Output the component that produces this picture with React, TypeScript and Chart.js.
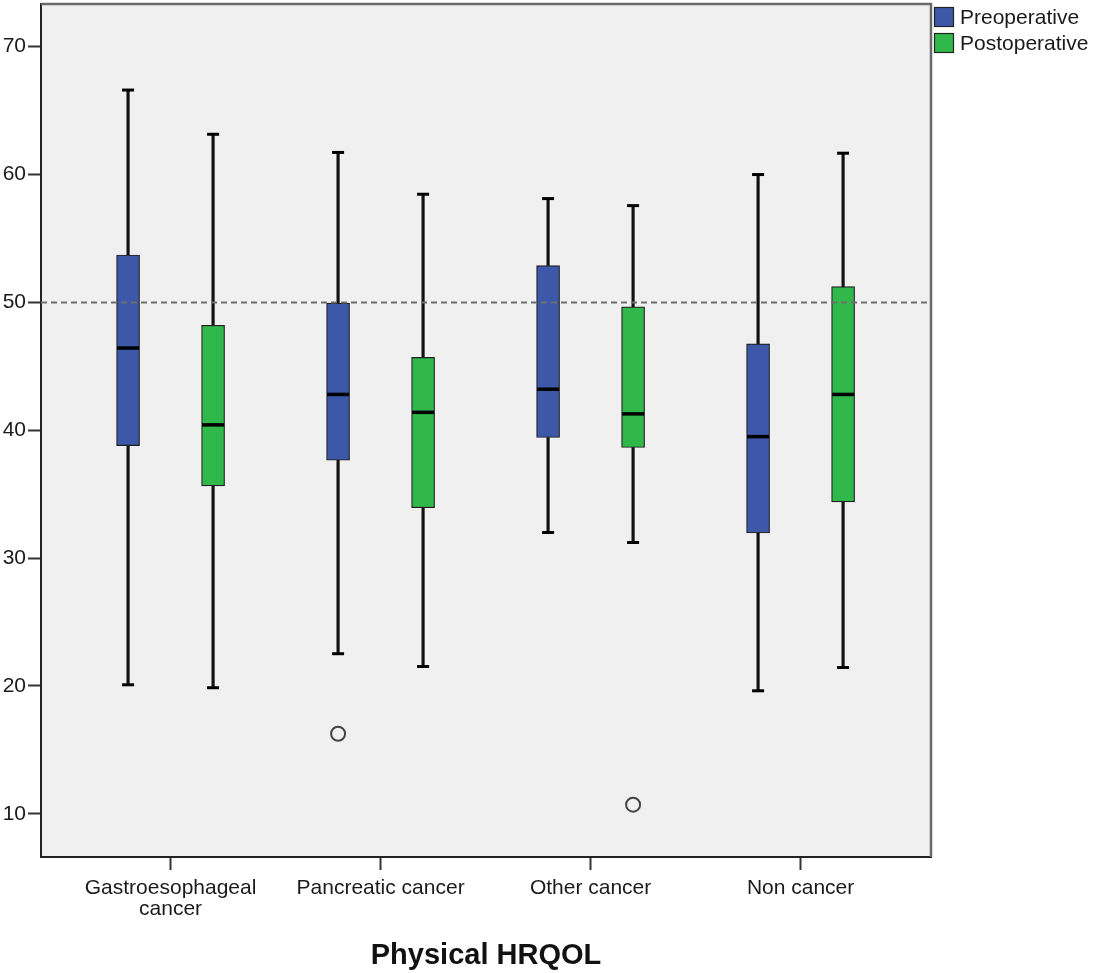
import React, { useEffect, useRef } from 'react';
import { Chart, registerables } from 'chart.js';

Chart.register(...registerables);

// ---------- data ----------
const categories: (string | string[])[] = [['Gastroesophageal', 'cancer'], 'Pancreatic cancer', 'Other cancer', 'Non cancer'];
const seriesNames = ['Preoperative', 'Postoperative'];
const yTicks = [10, 20, 30, 40, 50, 60, 70];
const referenceValue = 50;

const preLow = [20.09, 22.52, 32.0, 19.62];
const preQ1 = [38.8, 37.65, 39.43, 31.96];
const preMedian = [46.43, 42.8, 43.21, 39.5];
const preQ3 = [53.71, 49.95, 52.88, 46.76];
const preHigh = [66.61, 61.73, 58.12, 60.0];

const postLow = [19.86, 21.52, 31.22, 21.44];
const postQ1 = [35.65, 33.94, 38.65, 34.39];
const postMedian = [40.42, 41.4, 41.28, 42.8];
const postQ3 = [48.21, 45.7, 49.65, 51.23];
const postHigh = [63.15, 58.46, 57.57, 61.67];

const preOutlierCategory = [1];
const preOutlierValue = [16.26];
const postOutlierCategory = [2];
const postOutlierValue = [10.71];

// ---------- styling ----------
const FONT = '"Liberation Sans", Arial, sans-serif';
const BLUE = '#3d58a8';
const GREEN = '#31b84b';
const OFFSET = 0.2024;
const X_MIN = -0.617;
const X_MAX = 3.621;
const Y_MIN = 6.62;
const Y_MAX = 73.34;

function boxes(q1: number[], q3: number[], off: number) {
  return q1.map((v, i) => ({ x: i + off, y: [v, q3[i]] }));
}
function whiskers(low: number[], q1: number[], q3: number[], high: number[], off: number) {
  const out: any[] = [];
  low.forEach((v, i) => {
    out.push({ x: i + off, y: [v, q1[i]] });
    out.push({ x: i + off, y: [q3[i], high[i]] });
  });
  return out;
}
function caps(low: number[], high: number[], off: number) {
  const out: any[] = [];
  low.forEach((v, i) => {
    out.push({ x: i + off, y: v });
    out.push({ x: i + off, y: high[i] });
  });
  return out;
}
function points(vals: number[], off: number) {
  return vals.map((v, i) => ({ x: i + off, y: v }));
}

const backgroundPlugin = {
  id: 'plotBackground',
  beforeDraw(chart: any) {
    const { ctx, chartArea: a } = chart;
    ctx.save();
    ctx.fillStyle = '#f0f0f0';
    ctx.fillRect(a.left, a.top, a.right - a.left, a.bottom - a.top);
    ctx.restore();
  },
  afterDraw(chart: any) {
    const { ctx, chartArea: a } = chart;
    ctx.save();
    ctx.strokeStyle = '#6a6a6a';
    ctx.lineWidth = 2.5;
    ctx.beginPath();
    ctx.moveTo(a.left, a.top);
    ctx.lineTo(a.right, a.top);
    ctx.lineTo(a.right, a.bottom);
    ctx.stroke();
    // legend
    const colors = [BLUE, GREEN];
    ctx.font = `21px ${FONT}`;
    ctx.textBaseline = 'middle';
    ctx.textAlign = 'left';
    seriesNames.forEach((name, i) => {
      const x = a.right + 3;
      const y = 7 + i * 26;
      ctx.fillStyle = colors[i];
      ctx.fillRect(x, y, 20, 20);
      ctx.strokeStyle = '#222';
      ctx.lineWidth = 1.2;
      ctx.strokeRect(x + 0.5, y + 0.5, 19, 19);
      ctx.fillStyle = '#1a1a1a';
      ctx.fillText(name, x + 26, y + 11);
    });
    ctx.restore();
  },
};

export default function App() {
  const ref = useRef<HTMLCanvasElement>(null);
  useEffect(() => {
    if (!ref.current) return;
    const chart = new Chart(ref.current, {
      type: 'bar',
      data: {
        datasets: [
          {
            type: 'bar',
            label: 'whiskersPre',
            data: whiskers(preLow, preQ1, preQ3, preHigh, -OFFSET),
            backgroundColor: '#111',
            barThickness: 2.5,
            grouped: false,
            order: 10,
          } as any,
          {
            type: 'bar',
            label: 'whiskersPost',
            data: whiskers(postLow, postQ1, postQ3, postHigh, OFFSET),
            backgroundColor: '#111',
            barThickness: 2.5,
            grouped: false,
            order: 10,
          } as any,
          {
            type: 'bar',
            label: seriesNames[0],
            data: boxes(preQ1, preQ3, -OFFSET),
            backgroundColor: BLUE,
            borderColor: '#1e1e1e',
            borderWidth: 1.2,
            borderSkipped: false,
            barThickness: 23,
            grouped: false,
            order: 8,
          } as any,
          {
            type: 'bar',
            label: seriesNames[1],
            data: boxes(postQ1, postQ3, OFFSET),
            backgroundColor: GREEN,
            borderColor: '#1e1e1e',
            borderWidth: 1.2,
            borderSkipped: false,
            barThickness: 23,
            grouped: false,
            order: 8,
          } as any,
          {
            type: 'scatter',
            label: 'medians',
            data: [...points(preMedian, -OFFSET), ...points(postMedian, OFFSET)],
            pointStyle: 'line',
            pointRadius: 11,
            pointBorderWidth: 3.5,
            pointBorderColor: '#000',
            order: 6,
          } as any,
          {
            type: 'scatter',
            label: 'caps',
            data: [...caps(preLow, preHigh, -OFFSET), ...caps(postLow, postHigh, OFFSET)],
            pointStyle: 'line',
            pointRadius: 6,
            pointBorderWidth: 3,
            pointBorderColor: '#000',
            order: 6,
          } as any,
          {
            type: 'scatter',
            label: 'outliers',
            data: [
              ...preOutlierCategory.map((c, i) => ({ x: c - OFFSET, y: preOutlierValue[i] })),
              ...postOutlierCategory.map((c, i) => ({ x: c + OFFSET, y: postOutlierValue[i] })),
            ],
            pointStyle: 'circle',
            pointRadius: 7,
            pointBorderWidth: 2,
            pointBorderColor: '#444',
            pointBackgroundColor: 'rgba(0,0,0,0)',
            order: 4,
          } as any,
          {
            type: 'line',
            label: 'reference',
            data: [
              { x: X_MIN, y: referenceValue },
              { x: X_MAX, y: referenceValue },
            ],
            borderColor: '#6e6e6e',
            borderWidth: 2,
            borderDash: [6, 4],
            pointRadius: 0,
            order: 1,
          } as any,
        ],
      },
      options: {
        responsive: false,
        animation: false,
        events: [],
        layout: { autoPadding: false, padding: { top: 4, right: 163, left: 0, bottom: 0 } },
        plugins: { legend: { display: false }, tooltip: { enabled: false } },
        scales: {
          x: {
            type: 'linear',
            min: X_MIN,
            max: X_MAX,
            offset: false,
            afterFit(scale: any) {
              scale.height = 116;
              scale.paddingLeft = 0;
              scale.paddingRight = 0;
            },
            afterBuildTicks(scale: any) {
              scale.ticks = categories.map((_, i) => ({ value: i }));
            },
            grid: {
              offset: false,
              drawOnChartArea: false,
              drawTicks: true,
              tickLength: 13,
              tickWidth: 2,
              tickColor: '#333',
            },
            border: { display: true, color: '#222', width: 2 },
            ticks: {
              autoSkip: false,
              maxRotation: 0,
              padding: 8,
              color: '#1a1a1a',
              font: { family: FONT, size: 21, lineHeight: 1.0 },
              callback: (v: any) => categories[Math.round(Number(v))] as any,
            },
            title: {
              display: true,
              text: 'Physical HRQOL',
              color: '#111',
              font: { family: FONT, size: 29, weight: 'bold' },
              padding: { top: 0, bottom: 0 },
            },
          },
          y: {
            type: 'linear',
            min: Y_MIN,
            max: Y_MAX,
            afterFit(scale: any) {
              scale.width = 41;
              scale.paddingTop = 0;
              scale.paddingBottom = 0;
            },
            afterBuildTicks(scale: any) {
              scale.ticks = yTicks.map((v) => ({ value: v }));
            },
            grid: {
              drawOnChartArea: false,
              drawTicks: true,
              tickLength: 13,
              tickWidth: 2,
              tickColor: '#333',
            },
            border: { display: true, color: '#222', width: 2 },
            ticks: {
              padding: 2,
              color: '#1a1a1a',
              font: { family: FONT, size: 21 },
            },
          },
        },
      } as any,
      plugins: [backgroundPlugin],
    });
    return () => chart.destroy();
  }, []);
  return (
    <div style={{ position: 'absolute', left: 0, top: 0, width: 1094, height: 973, background: '#fff' }}>
      <canvas ref={ref} width={1094} height={973} style={{ display: 'block' }} />
    </div>
  );
}
